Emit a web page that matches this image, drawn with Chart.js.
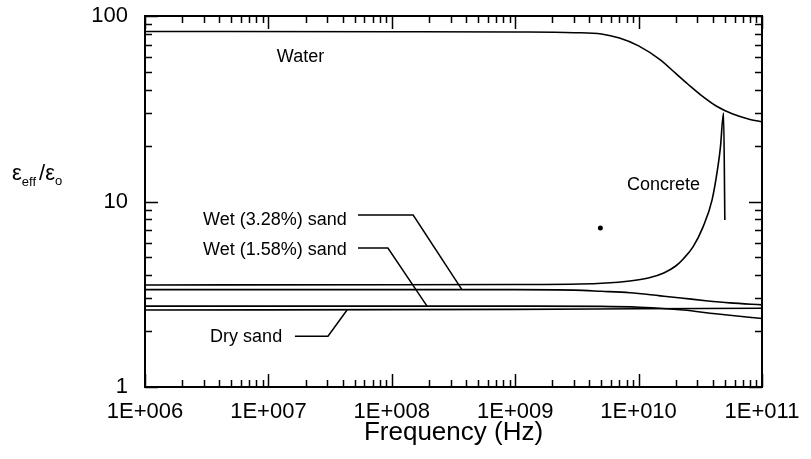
<!DOCTYPE html>
<html>
<head>
<meta charset="utf-8">
<script src="https://cdn.jsdelivr.net/npm/chart.js@4.4.1/dist/chart.umd.min.js"></script>
<style>
  html, body { margin: 0; padding: 0; background: #fff; }
</style>
</head>
<body>
<canvas id="chart" width="811" height="459"></canvas>
<script>
// Relative permittivity vs frequency (Hz)
const waterFreq = [1e6, 1e8, 1e9, 3e9, 5e9, 7e9, 1e10, 1.5e10, 2e10, 2.5e10, 3.2e10, 4.4e10, 5.8e10, 8e10, 1e11];
const waterEps  = [82.5, 82.3, 82, 81.3, 80, 76, 69, 58, 49, 43, 37.5, 32.3, 29.6, 27.7, 26.9];

const concreteFreq = [1e6, 1e8, 1e9, 3.35e9, 8.5e9, 1.2e10, 1.6e10, 2e10, 2.3e10, 2.76e10, 3.33e10, 3.94e10, 4.4e10, 4.6e10, 4.88e10, 5.0e10];
const concreteEps  = [3.55, 3.56, 3.57, 3.59, 3.73, 3.87, 4.12, 4.49, 4.9, 5.69, 7.3, 10.2, 15.5, 19.5, 30, 7.94];

const wet328Freq = [1e6, 1e9, 3e9, 5e9, 8.5e9, 1.5e10, 2.2e10, 3.5e10, 5.5e10, 1e11];
const wet328Eps  = [3.35, 3.35, 3.33, 3.28, 3.22, 3.1, 3.02, 2.92, 2.84, 2.77];

const wet158Freq = [1e6, 1e9, 4.9e9, 1.02e10, 2.3e10, 4.2e10, 1e11];
const wet158Eps  = [2.73, 2.73, 2.72, 2.69, 2.6, 2.48, 2.34];

const drySandFreq = [1e6, 1e9, 1e10, 1e11];
const drySandEps  = [2.6, 2.62, 2.64, 2.66];

const dotFreq = [4.9e9];
const dotEps  = [7.2];

const xDecades = [1e6, 1e7, 1e8, 1e9, 1e10, 1e11];
const xTickLabels = ['1E+006', '1E+007', '1E+008', '1E+009', '1E+010', '1E+011'];
const yDecades = [1, 10, 100];
const yTickLabels = ['1', '10', '100'];

// curve labels: text anchor and leader polyline, in data coordinates
const curveLabels = [
  { text: 'Water', at: [1.17e7, 56.5], leader: [] },
  { text: 'Concrete', at: [8.05e9, 11.5], leader: [] },
  { text: 'Wet (3.28%) sand', at: [2.95e6, 7.46], leader: [[5.32e7, 8.45], [1.49e8, 8.45], [3.7e8, 3.35]] },
  { text: 'Wet (1.58%) sand', at: [2.95e6, 5.15], leader: [[5.32e7, 5.61], [9.3e7, 5.61], [1.93e8, 2.73]] },
  { text: 'Dry sand', at: [3.37e6, 1.75], leader: [[1.64e7, 1.88], [3.04e7, 1.88], [4.34e7, 2.6]] }
];

const FONT = 'Arial, "Liberation Sans", sans-serif';

// 1..9 x 10^n tick positions for a log axis
function logTicks(decades) {
  const out = [];
  for (let i = 0; i < decades.length - 1; i++) {
    for (let k = 1; k < 10; k++) out.push(k * decades[i]);
  }
  out.push(decades[decades.length - 1]);
  return out;
}
const xTicks = logTicks(xDecades);
const yTicks = logTicks(yDecades);

const pts = (xs, ys) => xs.map((x, i) => ({ x: x, y: ys[i] }));

function curve(data) {
  return {
    data: data,
    borderColor: '#000',
    borderWidth: 1.6,
    pointRadius: 0,
    fill: false,
    cubicInterpolationMode: 'monotone'
  };
}

const boxPlugin = {
  id: 'box',
  afterDatasetsDraw(chart) {
    const { ctx, chartArea: a, scales: { x, y } } = chart;
    ctx.save();
    ctx.strokeStyle = '#000';
    ctx.lineWidth = 2;
    ctx.strokeRect(a.left, a.top, a.right - a.left, a.bottom - a.top);
    ctx.lineWidth = 1.5;
    ctx.beginPath();
    xTicks.forEach(v => {
      const px = Math.round(x.getPixelForValue(v)) + 0.5;
      const len = xDecades.includes(v) ? 13 : 7;
      ctx.moveTo(px, a.bottom); ctx.lineTo(px, a.bottom - len);
      ctx.moveTo(px, a.top); ctx.lineTo(px, a.top + len);
    });
    yTicks.forEach(v => {
      const py = Math.round(y.getPixelForValue(v)) + 0.5;
      const len = yDecades.includes(v) ? 13 : 7;
      ctx.moveTo(a.left, py); ctx.lineTo(a.left + len, py);
      ctx.moveTo(a.right, py); ctx.lineTo(a.right - len, py);
    });
    ctx.stroke();
    ctx.restore();
  },
  afterDraw(chart) {
    const { ctx, scales: { x, y } } = chart;
    ctx.save();
    ctx.fillStyle = '#000';
    ctx.strokeStyle = '#000';
    ctx.lineWidth = 1.5;
    ctx.textBaseline = 'alphabetic';
    ctx.font = '18px ' + FONT;
    curveLabels.forEach(l => {
      ctx.fillText(l.text, x.getPixelForValue(l.at[0]), y.getPixelForValue(l.at[1]));
      if (l.leader.length) {
        ctx.beginPath();
        l.leader.forEach((p, i) => {
          const px = x.getPixelForValue(p[0]), py = y.getPixelForValue(p[1]);
          if (i === 0) ctx.moveTo(px, py); else ctx.lineTo(px, py);
        });
        ctx.stroke();
      }
    });

    // y-axis title: eps_eff / eps_o
    let cx = 12;
    const base = 180;
    const big = '22px ' + FONT, small = '13px ' + FONT;
    ctx.font = big; ctx.fillText('\u03b5', cx, base); cx += ctx.measureText('\u03b5').width;
    ctx.font = small; ctx.fillText('eff', cx, base + 6); cx += ctx.measureText('eff').width + 3;
    ctx.font = big; ctx.fillText('/', cx, base); cx += ctx.measureText('/').width;
    ctx.fillText('\u03b5', cx, base); cx += ctx.measureText('\u03b5').width;
    ctx.font = small; ctx.fillText('o', cx, base + 5);
    ctx.restore();
  }
};

new Chart(document.getElementById('chart'), {
  type: 'line',
  data: {
    datasets: [
      curve(pts(waterFreq, waterEps)),
      curve(pts(concreteFreq, concreteEps)),
      curve(pts(wet328Freq, wet328Eps)),
      curve(pts(wet158Freq, wet158Eps)),
      curve(pts(drySandFreq, drySandEps)),
      {
        data: pts(dotFreq, dotEps),
        showLine: false,
        pointRadius: 2.5,
        pointBackgroundColor: '#000',
        pointBorderWidth: 0
      }
    ]
  },
  options: {
    responsive: false,
    animation: false,
    devicePixelRatio: 1,
    layout: { padding: { top: 16, right: 49, bottom: 0, left: 0 } },
    plugins: { legend: { display: false }, tooltip: { enabled: false } },
    scales: {
      x: {
        type: 'logarithmic',
        position: 'bottom',
        min: 1e6,
        max: 1e11,
        afterBuildTicks: s => { s.ticks = xTicks.map(v => ({ value: v })); },
        afterFit: s => { s.height = 72; s.paddingLeft = 0; s.paddingRight = 0; },
        grid: { display: false, drawTicks: false },
        border: { display: false },
        ticks: {
          autoSkip: false,
          maxRotation: 0,
          minRotation: 0,
          padding: 12,
          color: '#000',
          font: { family: FONT, size: 22 },
          callback: v => {
            const i = xDecades.indexOf(v);
            return i >= 0 ? xTickLabels[i] : '';
          }
        },
        title: {
          display: true,
          text: 'Frequency (Hz)',
          color: '#000',
          font: { family: FONT, size: 26 },
          padding: { top: 0, bottom: 11 }
        }
      },
      y: {
        type: 'logarithmic',
        position: 'left',
        min: 1,
        max: 100,
        afterBuildTicks: s => { s.ticks = yTicks.map(v => ({ value: v })); },
        afterFit: s => { s.width = 145; s.paddingTop = 0; s.paddingBottom = 0; },
        grid: { display: false, drawTicks: false },
        border: { display: false },
        ticks: {
          autoSkip: false,
          padding: 17,
          color: '#000',
          font: { family: FONT, size: 22 },
          callback: v => {
            const i = yDecades.indexOf(v);
            return i >= 0 ? yTickLabels[i] : '';
          }
        }
      }
    }
  },
  plugins: [boxPlugin]
});
</script>
</body>
</html>
